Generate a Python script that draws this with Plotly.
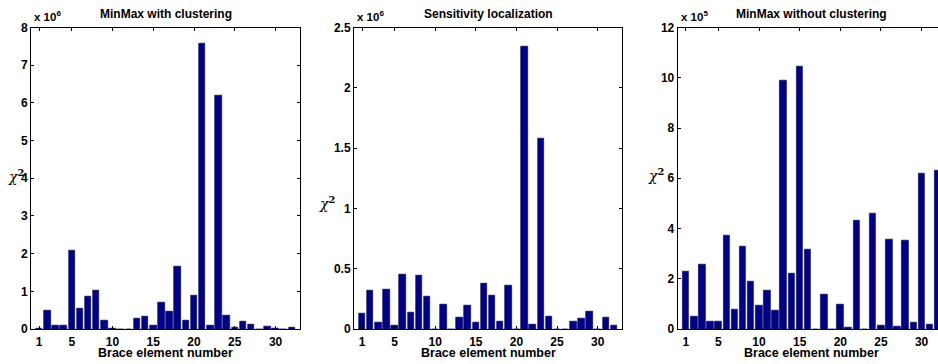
import plotly.graph_objects as go

# Brace element numbers
elements = list(range(1, 33))

# MinMax with clustering, chi^2 in units of 1e6
minmax_clust_e6 = [0.02, 0.48, 0.09, 0.10, 2.08, 0.55, 0.86, 1.02, 0.22, 0.01,
                   0.0, 0.0, 0.27, 0.34, 0.09, 0.70, 0.47, 1.67, 0.22, 0.89,
                   7.57, 0.10, 6.20, 0.36, 0.03, 0.19, 0.11, 0.0, 0.07, 0.01,
                   0.0, 0.04]

# Sensitivity localization, chi^2 in units of 1e6
sensitivity_e6 = [0.13, 0.32, 0.055, 0.33, 0.033, 0.455, 0.14, 0.447, 0.267, 0.0,
                  0.207, 0.0, 0.094, 0.196, 0.05, 0.378, 0.28, 0.066, 0.361, 0.0,
                  2.343, 0.041, 1.579, 0.105, 0.0, 0.0, 0.061, 0.083, 0.146, 0.0,
                  0.094, 0.025]

# MinMax without clustering, chi^2 in units of 1e5
minmax_noclust_e5 = [2.28, 0.49, 2.58, 0.28, 0.29, 3.73, 0.78, 3.28, 1.89, 0.95,
                     1.55, 0.73, 9.91, 2.22, 10.46, 3.17, 0.0, 1.39, 0.0, 0.98,
                     0.05, 4.31, 0.0, 4.59, 0.15, 3.56, 0.09, 3.51, 0.25, 6.19,
                     0.16, 6.30]

titles = ["MinMax with clustering", "Sensitivity localization", "MinMax without clustering"]
exponents = ["6", "6", "5"]
xlabel = "Brace element number"
xtick_vals = [1, 5, 10, 15, 20, 25, 30]
xtick_text = ["1", "5", "10", "15", "20", "25", "30"]

y1_ticks = [0, 1, 2, 3, 4, 5, 6, 7, 8]
y1_text = ["0", "1", "2", "3", "4", "5", "6", "7", "8"]
y2_ticks = [0, 0.5, 1, 1.5, 2, 2.5]
y2_text = ["0", "0.5", "1", "1.5", "2", "2.5"]
y3_ticks = [0, 2, 4, 6, 8, 10, 12]
y3_text = ["0", "2", "4", "6", "8", "10", "12"]

W, H = 938, 364
BAR = "#00008C"
FONT = "Arial, Liberation Sans, Helvetica, sans-serif"


def bold(labels):
    return ["<b>%s</b>" % t for t in labels]


fig = go.Figure()
series = [minmax_clust_e6, sensitivity_e6, minmax_noclust_e5]
for i, vals in enumerate(series):
    s = "" if i == 0 else str(i + 1)
    fig.add_trace(go.Bar(x=elements, y=vals, width=0.8,
                         marker=dict(color=BAR, line=dict(color="#000040", width=0.6)),
                         xaxis="x" + s, yaxis="y" + s, showlegend=False))

ydom = [1 - 329 / H, 1 - 27.5 / H]
x_domains = [[31 / W, 300 / W], [354 / W, 622 / W], [677.7 / W, 1.0]]
x_ranges = [[0, 33], [0, 33], [0, 33 * (938 - 677.7) / 268.3]]
y_ranges = [[0, 8], [0, 2.5], [0, 12]]
y_ticks = [(y1_ticks, y1_text), (y2_ticks, y2_text), (y3_ticks, y3_text)]

tickfont = dict(family=FONT, size=12, color="black")
layout = dict(width=W, height=H, margin=dict(l=0, r=0, t=0, b=0, autoexpand=False),
              paper_bgcolor="white", plot_bgcolor="white", bargap=0,
              font=dict(family=FONT, color="black"))

for i in range(3):
    s = "" if i == 0 else str(i + 1)
    xa = dict(domain=x_domains[i], range=x_ranges[i], anchor="y" + s,
              tickmode="array", tickvals=xtick_vals, ticktext=bold(xtick_text),
              ticks="inside", ticklen=3, tickcolor="black", showline=True,
              linecolor="black", linewidth=1, mirror="ticks", showgrid=False,
              zeroline=False, tickfont=tickfont, fixedrange=True, automargin=False,
              ticklabelstandoff=2)
    tv, tt = y_ticks[i]
    ya = dict(domain=ydom, range=y_ranges[i], anchor="x" + s,
              tickmode="array", tickvals=tv, ticktext=bold(tt),
              ticks="inside", ticklen=3, tickcolor="black", showline=True,
              linecolor="black", linewidth=1, mirror=("ticks" if i < 2 else False),
              showgrid=False, zeroline=False, tickfont=tickfont, fixedrange=True,
              automargin=False)
    layout["xaxis" + s] = xa
    layout["yaxis" + s] = ya

annotations = []
chi_pos = [(15.5, 176), (327, 203), (655.5, 175)]
for i in range(3):
    s = "" if i == 0 else str(i + 1)
    # title
    annotations.append(dict(text="<b>%s</b>" % titles[i], xref="x" + s, x=16.5,
                            yref="paper", y=1 - 14 / H, showarrow=False,
                            xanchor="center", yanchor="middle",
                            font=dict(family=FONT, size=12, color="black")))
    # x label
    annotations.append(dict(text="<b>%s</b>" % xlabel, xref="x" + s, x=16.5,
                            yref="paper", y=1 - 353 / H, showarrow=False,
                            xanchor="center", yanchor="middle",
                            font=dict(family=FONT, size=12.5, color="black")))
    # exponent
    annotations.append(dict(text="<b>x 10<sup>%s</sup></b>" % exponents[i],
                            xref="paper", x=x_domains[i][0] + 1 / W,
                            yref="paper", y=1 - 16 / H, showarrow=False,
                            xanchor="left", yanchor="middle",
                            font=dict(family=FONT, size=11.5, color="black")))
    # y label chi^2
    cx, cy = chi_pos[i]
    annotations.append(dict(text="<i>χ</i><sup><b>2</b></sup>", xref="paper", x=cx / W,
                            yref="paper", y=1 - cy / H, showarrow=False,
                            xanchor="center", yanchor="middle",
                            font=dict(family="DejaVu Serif, serif", size=14, color="black")))
layout["annotations"] = annotations

fig.update_layout(**layout)
fig.write_html("out.html", config={"displayModeBar": False})
